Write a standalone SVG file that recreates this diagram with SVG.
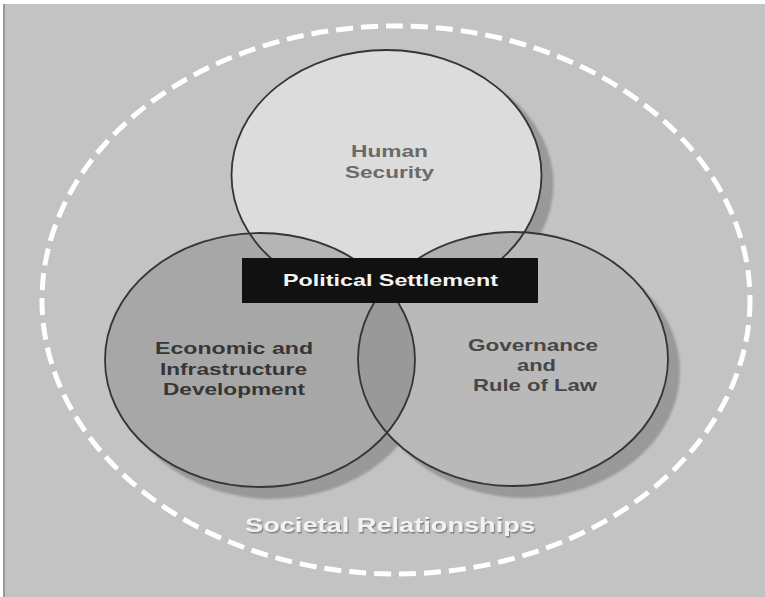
<svg xmlns="http://www.w3.org/2000/svg" width="765" height="597" viewBox="0 0 765 597">
  <defs>
    <style>
      .shadow { fill: #999999; filter: url(#soft); }
      .ring { fill: none; stroke: #353535; stroke-width: 1.8; }
      .lbl { font-family: "Liberation Sans", Arial, sans-serif; font-weight: bold; text-anchor: middle; }
    </style>
    <filter id="soft" x="-10%" y="-10%" width="120%" height="120%">
      <feGaussianBlur stdDeviation="1"/>
    </filter>
    <filter id="txtshadow" x="-5%" y="-30%" width="110%" height="160%">
      <feDropShadow dx="1.2" dy="1.5" stdDeviation="0.6" flood-color="#7a7a7a" flood-opacity="0.9"/>
    </filter>
    <clipPath id="clipTop"><ellipse cx="386.5" cy="175" rx="155" ry="125"/></clipPath>
    <clipPath id="clipLeft"><ellipse cx="260" cy="360" rx="155" ry="127"/></clipPath>
  </defs>

  <g id="background">
    <rect x="3" y="4" width="762" height="593" fill="#c3c3c3"/>
    <line x1="4" y1="4" x2="4" y2="597" stroke="#8a8a8a" stroke-width="1.5"/>
  </g>

  <g id="societal-relationships">
    <ellipse cx="396" cy="300" rx="354" ry="274" fill="none" stroke="#ffffff" stroke-width="5" stroke-dasharray="17 8"/>
    <text class="lbl" x="390" y="532" font-size="21" fill="#f2f2f2" textLength="290" lengthAdjust="spacingAndGlyphs" filter="url(#txtshadow)">Societal Relationships</text>
  </g>

  <g id="shadows">
    <ellipse class="shadow" cx="398.5" cy="184" rx="155" ry="125"/>
    <ellipse class="shadow" cx="272" cy="372" rx="155" ry="127"/>
    <ellipse class="shadow" cx="525" cy="371" rx="155" ry="127"/>
  </g>

  <g id="node-human-security">
    <ellipse cx="386.5" cy="175" rx="155" ry="125" fill="#dcdcdc"/>
  </g>
  <g id="node-economic">
    <ellipse cx="260" cy="360" rx="155" ry="127" fill="#a7a7a7"/>
  </g>
  <g id="node-governance">
    <ellipse cx="513" cy="359" rx="155" ry="127" fill="#b9b9b9"/>
  </g>

  <g id="overlaps">
    <ellipse cx="260" cy="360" rx="155" ry="127" fill="#b5b5b5" clip-path="url(#clipTop)"/>
    <ellipse cx="513" cy="359" rx="155" ry="127" fill="#afafaf" clip-path="url(#clipTop)"/>
    <ellipse cx="513" cy="359" rx="155" ry="127" fill="#999999" clip-path="url(#clipLeft)"/>
  </g>

  <g id="outlines">
    <ellipse class="ring" cx="386.5" cy="175" rx="155" ry="125"/>
    <ellipse class="ring" cx="260" cy="360" rx="155" ry="127"/>
    <ellipse class="ring" cx="513" cy="359" rx="155" ry="127"/>
  </g>

  <g id="labels">
    <text class="lbl" x="389.5" y="157" font-size="16" fill="#6a6a6a" textLength="77" lengthAdjust="spacingAndGlyphs">Human</text>
    <text class="lbl" x="389.5" y="178" font-size="16" fill="#6a6a6a" textLength="89" lengthAdjust="spacingAndGlyphs">Security</text>
    <text class="lbl" x="234" y="354" font-size="17" fill="#363636" textLength="158" lengthAdjust="spacingAndGlyphs">Economic and</text>
    <text class="lbl" x="233.5" y="375" font-size="17" fill="#363636" textLength="147" lengthAdjust="spacingAndGlyphs">Infrastructure</text>
    <text class="lbl" x="234" y="395" font-size="17" fill="#363636" textLength="142" lengthAdjust="spacingAndGlyphs">Development</text>
    <text class="lbl" x="533" y="351" font-size="17" fill="#474747" textLength="130" lengthAdjust="spacingAndGlyphs">Governance</text>
    <text class="lbl" x="536.5" y="371" font-size="17" fill="#474747" textLength="39" lengthAdjust="spacingAndGlyphs">and</text>
    <text class="lbl" x="535" y="391" font-size="17" fill="#474747" textLength="124" lengthAdjust="spacingAndGlyphs">Rule of Law</text>
  </g>

  <g id="node-political-settlement">
    <rect x="242" y="258" width="296" height="45" fill="#111111"/>
    <text class="lbl" x="390.5" y="286" font-size="17" fill="#f4f4f4" textLength="215" lengthAdjust="spacingAndGlyphs">Political Settlement</text>
  </g>

  <g id="connectors"/>
</svg>
